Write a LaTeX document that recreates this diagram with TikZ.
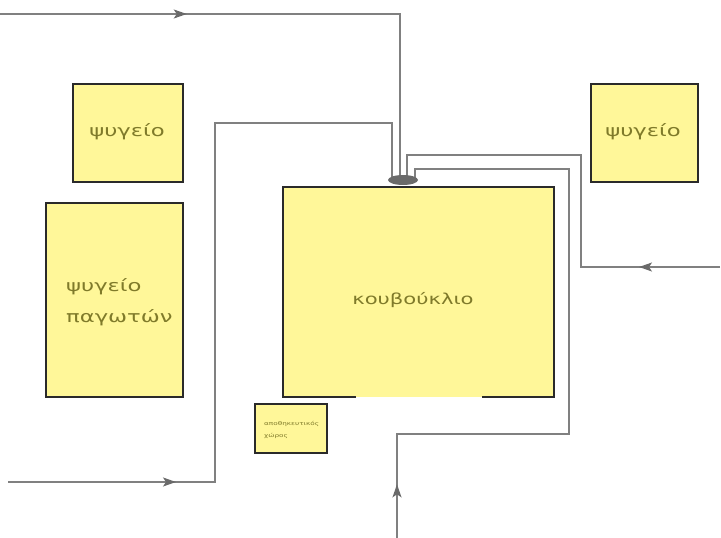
\documentclass[tikz,border=0pt]{standalone}
\usepackage{fontspec}
\setmainfont{DejaVu Sans}
\newfontfamily\widefont[FakeStretch=1.4]{DejaVu Sans}
\usetikzlibrary{arrows.meta,decorations.markings,shapes.geometric}
\definecolor{boxfill}{HTML}{FFF799}
\definecolor{boxline}{HTML}{2A2A2A}
\definecolor{pipe}{HTML}{808080}
\definecolor{hubgrey}{HTML}{6A6A6A}
\definecolor{labeltext}{HTML}{7F7A2A}
\tikzset{
  room/.style={draw=boxline,line width=1.5pt,fill=boxfill,inner sep=0pt,outer sep=0pt,anchor=north west},
  roomfill/.style={fill=boxfill,inner sep=0pt,outer sep=0pt,anchor=north west},
  roomedge/.style={draw=boxline,line width=1.5pt,line cap=butt},
  pipeline/.style={draw=pipe,line width=1.6pt,line join=miter},
  arrowat/.style={postaction={decorate},decoration={markings,mark=at position #1 with {\arrow{Stealth[length=13pt,width=9pt,inset=3pt,color=hubgrey]}}}},
  lbl/.style={text=labeltext,font=\widefont\fontsize{16.2}{16.2}\selectfont,inner sep=0pt},
  biglbl/.style={text=labeltext,font=\widefont\fontsize{15.1}{15.1}\selectfont,inner sep=0pt},
  smalllbl/.style={text=labeltext,font=\widefont\fontsize{5.2}{5.2}\selectfont,inner sep=0pt,anchor=west},
  hubshape/.style={ellipse,fill=hubgrey,minimum width=30pt,minimum height=10pt,inner sep=0pt}
}
\begin{document}
\begin{tikzpicture}[x=1pt,y=-1pt]
\useasboundingbox (0,0) rectangle (721,538);
% rooms
\node[room,minimum width=110pt,minimum height=98pt] (fridgeA) at (73,84) {};
\node[room,minimum width=137pt,minimum height=194pt] (freezer) at (46,203) {};
\node[room,minimum width=107pt,minimum height=98pt] (fridgeB) at (591,84) {};
\node[room,minimum width=72pt,minimum height=49pt] (store) at (255,404) {};
\node[roomfill,minimum width=271pt,minimum height=210pt] (cabin) at (283,187) {};
\coordinate (doorL) at (356,397);
\coordinate (doorR) at (482,397);
\draw[roomedge] (doorL) -- (cabin.south west) -- (cabin.north west) -- (cabin.north east) -- (cabin.south east) -- (doorR);
% labels
\node[lbl] (lblA) at (127,132) {ψυγείο};
\node[lbl] (lblB) at (643,132) {ψυγείο};
\node[lbl,anchor=west] (lblC) at (66,287) {ψυγείο};
\node[lbl,anchor=west] (lblD) at (66,318) {παγωτών};
\node[biglbl] (lblE) at (413,300) {κουβούκλιο};
\node[smalllbl] (lblF) at (264,424) {αποθηκευτικός};
\node[smalllbl] (lblG) at (264,436) {χώρος};
% free ends
\coordinate (inA) at (0,14);
\coordinate (inB) at (8,482);
\coordinate (inC) at (720,267);
\coordinate (inD) at (397,538);
\coordinate (h1) at (392,180);
\coordinate (h2) at (400,180);
\coordinate (h3) at (407,180);
\coordinate (h4) at (415,180);
% pipes
\path[pipeline,arrowat=0.33] (inA) -- (400,14) -- (h2);
\path[pipeline,arrowat=0.21] (inB) -- (215,482) -- (215,123) -- (392,123) -- (h1);
\path[pipeline,arrowat=0.18] (inC) -- (581,267) -- (581,155) -- (407,155) -- (h3);
\path[pipeline,arrowat=0.076] (inD) -- (397,434) -- (569,434) -- (569,169) -- (415,169) -- (h4);
% hub
\node[hubshape] (hub) at (403,180) {};
\end{tikzpicture}
\end{document}
